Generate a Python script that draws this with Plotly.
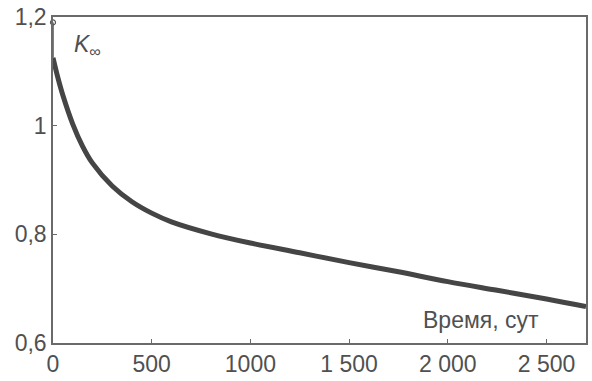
import plotly.graph_objects as go

# Data
time_days = [0, 25, 50, 100, 150, 200, 300, 400, 500, 600, 800, 1000, 1250, 1500, 1750, 2000, 2250, 2500, 2700]
k_inf = [1.125, 1.088, 1.056, 1.003, 0.962, 0.931, 0.889, 0.860, 0.839, 0.823, 0.801, 0.784, 0.766, 0.748, 0.731, 0.713, 0.697, 0.681, 0.667]
start_t = [0]
start_k = [1.19]

xtick_vals = [0, 500, 1000, 1500, 2000, 2500]
xtick_text = ["0", "500", "1000", "1 500", "2 000", "2 500"]
ytick_vals = [0.6, 0.8, 1.0, 1.2]
ytick_text = ["0,6", "0,8", "1", "1,2"]

FONT = "Liberation Sans, Arial, sans-serif"

fig = go.Figure()
fig.add_trace(go.Scatter(x=[0, 0], y=[start_k[0], k_inf[0]], mode="lines",
                         line=dict(color="#555555", width=1.5), showlegend=False))
fig.add_trace(go.Scatter(x=time_days, y=k_inf, mode="lines",
                         line=dict(color="#454545", width=5, shape="spline", smoothing=1.0),
                         showlegend=False))
fig.add_trace(go.Scatter(x=start_t, y=start_k, mode="markers",
                         marker=dict(symbol="circle-open", size=5, color="#555555", line=dict(width=1.2)),
                         showlegend=False, cliponaxis=False))

axis_common = dict(showgrid=False, zeroline=False, showline=True, linecolor="#6a6a6a",
                   linewidth=1.5, mirror=True, ticks="inside", ticklen=4, tickcolor="#6a6a6a",
                   tickfont=dict(family=FONT, size=23, color="#505050"))

fig.update_xaxes(range=[0, 2700], tickvals=xtick_vals, ticktext=xtick_text, **axis_common)
fig.update_yaxes(range=[0.6, 1.2], tickvals=ytick_vals, ticktext=ytick_text, **axis_common)

fig.add_annotation(x=177, y=1.148, xref="x", yref="y", showarrow=False,
                   text="<i>K</i><sub>∞</sub>",
                   font=dict(family=FONT, size=23, color="#505050"))
fig.add_annotation(x=2167, y=0.643, xref="x", yref="y", showarrow=False,
                   text="Время, сут",
                   font=dict(family=FONT, size=23, color="#505050"))

fig.update_layout(width=592, height=381, margin=dict(l=53, r=4, t=17, b=29),
                  plot_bgcolor="white", paper_bgcolor="white")

fig.write_html("out.html")
